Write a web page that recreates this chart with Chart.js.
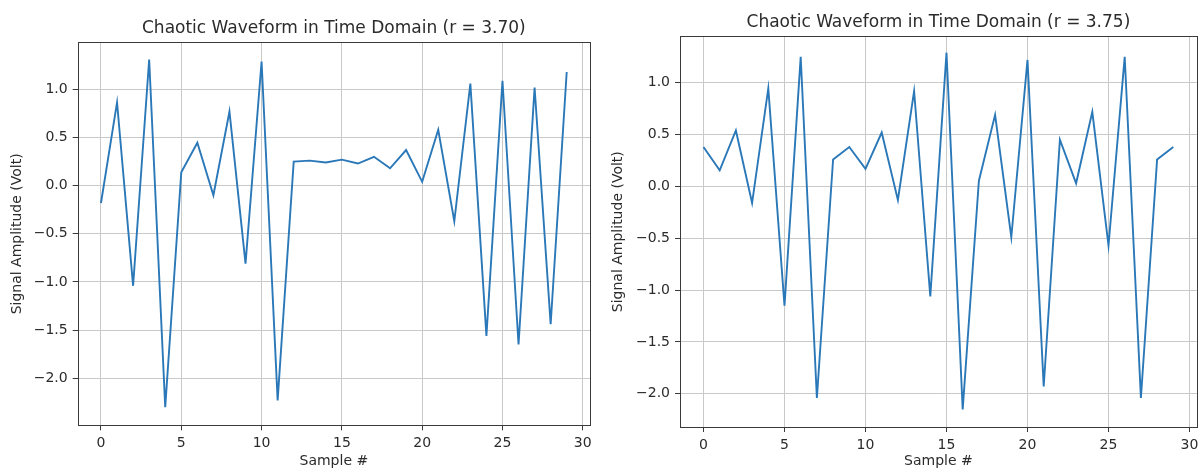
<!DOCTYPE html>
<html>
<head>
<meta charset="utf-8">
<script src="https://cdn.jsdelivr.net/npm/chart.js@4.4.0/dist/chart.umd.min.js"></script>
<style>
  html, body { margin: 0; padding: 0; background: #ffffff; }
  #wrap { position: relative; width: 1203px; height: 470px; overflow: hidden; }
  .box { position: absolute; top: 0; height: 470px; }
</style>
</head>
<body>
<div id="wrap">
  <div class="box" style="left:0px;width:600px;"><canvas id="c1"></canvas></div>
  <div class="box" style="left:600px;width:603px;"><canvas id="c2"></canvas></div>
</div>
<script>
// ---- data ----
const samples = [0,1,2,3,4,5,6,7,8,9,10,11,12,13,14,15,16,17,18,19,20,21,22,23,24,25,26,27,28,29];
const seriesR370 = [-0.18, 0.865, -1.04, 1.31, -2.30, 0.14, 0.446, -0.10, 0.77, -0.81,
                    1.29, -2.23, 0.25, 0.26, 0.24, 0.27, 0.23, 0.30, 0.18, 0.37,
                    0.04, 0.58, -0.37, 1.06, -1.56, 1.09, -1.65, 1.02, -1.44, 1.18];
const seriesR375 = [0.38, 0.155, 0.54, -0.16, 0.945, -1.15, 1.25, -2.04, 0.26, 0.38,
                    0.17, 0.52, -0.13, 0.92, -1.06, 1.29, -2.15, 0.055, 0.69, -0.49,
                    1.22, -1.93, 0.45, 0.03, 0.72, -0.57, 1.25, -2.04, 0.26, 0.38];
const xTickValues = [0, 5, 10, 15, 20, 25, 30];
const yTickValuesLeft = [-2.0, -1.5, -1.0, -0.5, 0.0, 0.5, 1.0];
const yTickValuesRight = [-2.0, -1.5, -1.0, -0.5, 0.0, 0.5, 1.0];
const titleLeft = 'Chaotic Waveform in Time Domain (r = 3.70)';
const titleRight = 'Chaotic Waveform in Time Domain (r = 3.75)';
const xLabel = 'Sample #';
const yLabel = 'Signal Amplitude (Volt)';

// ---- style ----
const FONT = "'DejaVu Sans', 'Liberation Sans', sans-serif";
const TEXT = '#2b2b2b';
const LINE = '#2a78b8';
const GRID = '#c9c9c9';
const SPINE = '#3a3a3a';

const framePlugin = {
  id: 'frame',
  afterDraw(chart) {
    const a = chart.chartArea, ctx = chart.ctx;
    ctx.save();
    ctx.strokeStyle = SPINE;
    ctx.lineWidth = 1;
    ctx.strokeRect(Math.round(a.left) + 0.5, Math.round(a.top) + 0.5,
                   Math.round(a.right - a.left), Math.round(a.bottom - a.top));
    ctx.restore();
  }
};

function fmt(v) {
  return v.toFixed(1).replace('-', '\u2212');
}

function makeChart(id, values, title, yTicks, geo) {
  const points = samples.map((s, i) => ({ x: s, y: values[i] }));
  return new Chart(document.getElementById(id), {
    type: 'line',
    data: {
      datasets: [{
        data: points,
        borderColor: LINE,
        borderWidth: 1.9,
        pointRadius: 0,
        tension: 0,
        fill: false
      }]
    },
    plugins: [framePlugin],
    options: {
      responsive: true,
      maintainAspectRatio: false,
      animation: false,
      events: [],
      layout: { padding: { left: 0, right: geo.padRight, top: 0, bottom: 0 } },
      plugins: {
        legend: { display: false },
        tooltip: { enabled: false },
        title: {
          display: true,
          text: title,
          fullSize: false,
          color: TEXT,
          font: { family: FONT, size: 17, weight: 'normal', lineHeight: 1.2 },
          padding: { top: geo.titleTop, bottom: geo.titleBottom }
        }
      },
      scales: {
        x: {
          type: 'linear',
          min: -1.45,
          max: 30.45,
          afterBuildTicks: (s) => { s.ticks = xTickValues.map(v => ({ value: v })); },
          afterFit: (s) => { s.height = geo.xAxisHeight; },
          ticks: {
            color: TEXT,
            font: { family: FONT, size: 14 },
            padding: 4.5,
            maxRotation: 0,
            autoSkip: false,
            callback: (v) => String(v)
          },
          grid: {
            color: GRID,
            lineWidth: 1,
            tickColor: SPINE,
            tickLength: 5,
            drawTicks: true
          },
          border: { display: false },
          title: {
            display: true,
            text: xLabel,
            color: TEXT,
            font: { family: FONT, size: 14 },
            padding: { top: 0, bottom: geo.xTitleBottom }
          }
        },
        y: {
          type: 'linear',
          min: geo.yMin,
          max: geo.yMax,
          afterBuildTicks: (s) => { s.ticks = yTicks.map(v => ({ value: v })); },
          afterFit: (s) => { s.width = geo.yAxisWidth; },
          ticks: {
            color: TEXT,
            font: { family: FONT, size: 14 },
            padding: 5,
            autoSkip: false,
            callback: (v) => fmt(v)
          },
          grid: {
            color: GRID,
            lineWidth: 1,
            tickColor: SPINE,
            tickLength: 5,
            drawTicks: true
          },
          border: { display: false },
          title: {
            display: true,
            text: yLabel,
            color: TEXT,
            font: { family: FONT, size: 14 },
            padding: { top: geo.yTitleTop, bottom: 0 }
          }
        }
      }
    }
  });
}

makeChart('c1', seriesR370, titleLeft, yTickValuesLeft, {
  padRight: 10, titleTop: 18.5, titleBottom: 3.5, xAxisHeight: 44.7,
  xTitleBottom: 0, yAxisWidth: 77.7, yTitleTop: 9,
  yMin: -2.489, yMax: 1.488
});
makeChart('c2', seriesR375, titleRight, yTickValuesRight, {
  padRight: 3, titleTop: 12.5, titleBottom: 3.5, xAxisHeight: 43,
  xTitleBottom: 0, yAxisWidth: 80, yTitleTop: 10,
  yMin: -2.32, yMax: 1.447
});
</script>
</body>
</html>
